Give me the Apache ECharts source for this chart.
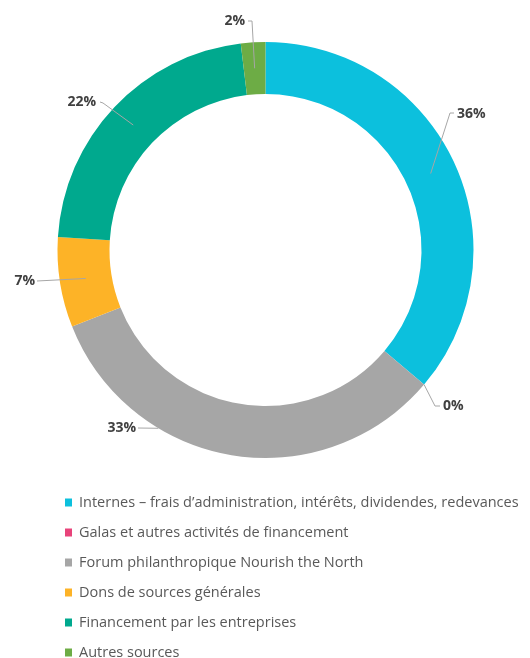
<!DOCTYPE html>
<html>
<head>
<meta charset="utf-8">
<script src="https://cdn.jsdelivr.net/npm/echarts@6/dist/echarts.min.js"></script>
<style>
  html, body { margin: 0; padding: 0; background: #fff; }
  #chart { width: 530px; height: 658px; }
</style>
</head>
<body>
<div id="chart"></div>
<script>
const categories = [
  'Internes – frais d’administration, intérêts, dividendes, redevances',
  'Galas et autres activités de financement',
  'Forum philanthropique Nourish the North',
  'Dons de sources générales',
  'Financement par les entreprises',
  'Autres sources'
]
const shares = [36.2, 0, 32.8, 7.0, 22.1, 1.9]
const colors = ['#0cc0dd', '#e8437a', '#a6a6a6', '#fdb327', '#00a98e', '#6dac45']

// ring geometry (px)
const CX = 265.5
const CY = 250
const R_IN = 156
const R_OUT = 208

// label anchors and leader-line bends, by slice
const labelSpots = [
  { x: 457, y: 114, align: 'left', bend: [[450, 113], [454, 113]], r: 182 },
  { x: 443, y: 406, align: 'left', bend: [[435, 406], [440, 406]], r: 208 },
  { x: 136, y: 428, align: 'right', bend: [[138, 428]], r: 208, angle: 211 },
  { x: 35, y: 281, align: 'right', bend: [[37, 281]], r: 182 },
  { x: 96, y: 102, align: 'right', bend: [[103, 103], [100, 102]], r: 182 },
  { x: 245, y: 21, align: 'right', bend: [[252, 21], [248, 21]], r: 182 }
]

const total = shares.reduce((a, b) => a + b, 0)
const midAngles = []
let acc = 0
shares.forEach((v) => {
  midAngles.push(((acc + v / 2) / total) * 360)
  acc += v
})

const pieData = categories.map((name, i) => ({ name, value: shares[i] }))

const chart = echarts.init(document.getElementById('chart'), null, { renderer: 'canvas' })
chart.setOption({
  animation: false,
  color: colors,
  legend: {
    orient: 'vertical',
    left: 60,
    top: 490,
    height: 200,
    icon: 'rect',
    itemWidth: 7,
    itemHeight: 8,
    itemGap: 15,
    selectedMode: false,
    textStyle: { fontFamily: 'Open Sans', fontSize: 14.5, color: '#595959', padding: [0, 0, 0, 2] },
    data: categories.map((name, i) => ({ name, itemStyle: { color: colors[i] } }))
  },
  series: [
    {
      // the ring itself
      type: 'pie',
      z: 2,
      center: [CX, CY],
      radius: [R_IN, R_OUT],
      startAngle: 90,
      clockwise: true,
      stillShowZeroSum: true,
      silent: true,
      label: { show: false },
      labelLine: { show: false },
      data: pieData
    },
    {
      // same slices, invisible, carrying the labels above the ring
      type: 'pie',
      z: 3,
      center: [CX, CY],
      radius: [R_IN, R_OUT],
      startAngle: 90,
      clockwise: true,
      avoidLabelOverlap: false,
      stillShowZeroSum: true,
      silent: true,
      legendHoverLink: false,
      itemStyle: { color: 'rgba(0,0,0,0)' },
      label: {
        show: true,
        formatter: (p) => Math.round(p.value) + '%',
        fontFamily: 'Open Sans',
        fontWeight: 'bold',
        fontSize: 14,
        color: '#404040'
      },
      labelLine: { show: true, lineStyle: { color: '#a6a6a6', width: 1 } },
      labelLayout: (params) => {
        const s = labelSpots[params.dataIndex]
        const a = ((s.angle !== undefined ? s.angle : midAngles[params.dataIndex]) * Math.PI) / 180
        const start = [CX + s.r * Math.sin(a), CY - s.r * Math.cos(a)]
        return {
          x: s.x,
          y: s.y,
          align: s.align,
          verticalAlign: 'middle',
          labelLinePoints: [start].concat(s.bend)
        }
      },
      data: pieData
    }
  ]
})
</script>
</body>
</html>
